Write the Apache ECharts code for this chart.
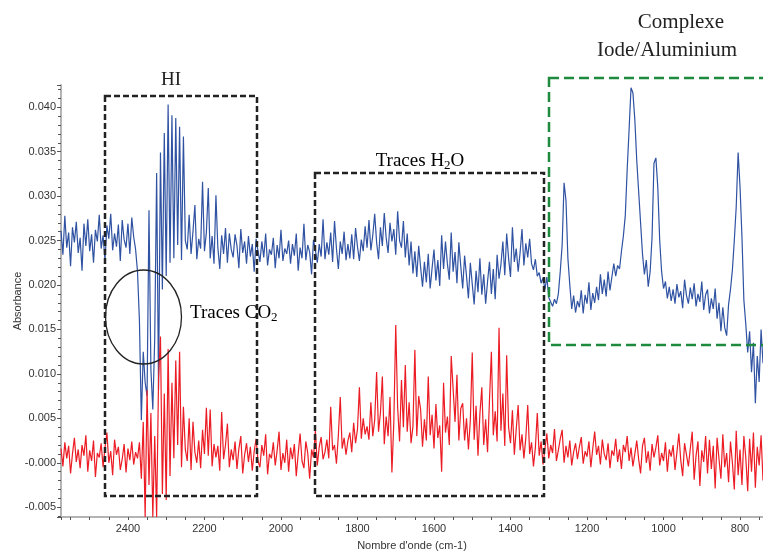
<!DOCTYPE html>
<html>
<head>
<meta charset="utf-8">
<script src="https://cdn.jsdelivr.net/npm/echarts@6/dist/echarts.min.js"></script>
<style>
  html, body { margin: 0; padding: 0; background: #fff; }
  #chart { width: 763px; height: 551px; }
</style>
</head>
<body>
<div id="chart"></div>
<script>
  // absorbance en milli-unites, un point tous les 5 cm-1 de 2575 a 740 cm-1
  const waveStart = 2575;
  const waveStep = 5;

  const blueAbs = [
    26.1, 23.4, 27.8, 24.2, 25.9, 22.1, 26.5, 24.8, 27.1, 23.6,
    25.3, 21.6, 26.9, 24.4, 27.4, 23.8, 25.7, 22.5, 26.2, 24.9,
    27.9, 24.1, 25.6, 22.8, 26.7, 25.2, 28.0, 23.9, 25.8, 24.3,
    26.8, 22.7, 27.3, 25.1, 24.2, 26.9, 23.5, 27.6, 25.4, 24.0,
    21.5, 16.0, 4.8, 12.5, 9.0, 7.5, 28.4, 10.5, 6.0, 14.0,
    32.6, 8.2, 34.9, 19.5, 37.1, 21.0, 40.3, 22.5, 39.1, 23.0,
    38.8, 24.5, 37.8, 22.8, 36.7, 25.0, 24.0, 27.9, 23.5, 26.0,
    29.0, 22.9, 25.2, 24.1, 31.6, 23.8, 25.9, 30.9, 23.0, 25.5,
    22.4, 30.1, 24.2, 21.8, 25.6, 23.5, 26.4, 22.5, 25.8, 24.0,
    23.1, 25.7, 24.4, 21.9, 26.3, 23.6, 24.9, 22.4, 25.5, 23.2,
    24.6, 21.5, 25.2, 23.8, 22.6, 24.9, 23.1, 25.8, 22.2, 24.0,
    23.4, 25.3, 21.9, 24.5, 23.0, 26.2, 22.7, 24.1, 23.5, 25.0,
    22.4, 24.6, 23.3, 25.8, 21.6, 24.2, 23.0, 26.9, 22.8, 24.5,
    23.7, 21.2, 25.1, 23.9, 22.5, 24.6, 23.2, 27.4, 22.9, 24.8,
    23.4, 25.9, 22.6, 27.2, 24.1, 21.8, 24.9, 23.5, 26.0, 22.8,
    24.6, 23.0, 25.7, 22.9, 26.4, 24.3, 22.7, 25.1, 23.8, 26.6,
    24.2, 27.3, 23.9, 25.6, 28.0, 24.8, 22.9, 26.5, 24.4, 28.1,
    25.3, 23.6, 27.0, 24.9, 26.3, 23.4, 28.3, 25.0, 24.2, 27.2,
    23.1, 25.8, 22.2, 24.9, 21.3, 23.8, 20.9, 24.4, 22.0, 19.8,
    22.6, 20.3, 23.5, 19.6, 21.9, 24.0, 20.5, 22.8, 19.9, 25.6,
    21.8, 24.9, 22.4, 20.6, 25.9, 21.5, 23.7, 20.2, 24.8, 22.1,
    19.6, 23.3, 21.0, 18.5, 22.5, 20.1, 17.8, 21.6, 19.2, 23.0,
    18.9, 21.2, 17.9, 20.4, 22.6, 19.0, 21.8, 18.4, 23.4, 20.7,
    22.3, 24.9, 21.1, 25.8, 23.0, 20.9, 26.5, 22.6, 24.1, 21.5,
    23.6, 26.3, 22.2, 24.7, 23.1, 25.2, 22.4, 21.7, 22.9, 21.0,
    21.4, 20.2, 20.8, 19.5, 20.9, 18.6, 18.1, 17.6, 18.4, 17.9,
    19.0, 21.5, 24.5, 31.5, 29.5, 23.0, 20.0, 17.3, 18.8, 16.9,
    18.2, 17.5, 19.4, 16.8, 18.9, 17.9, 20.3, 17.2, 19.1, 18.0,
    19.8, 18.3, 21.2, 19.0, 20.6, 18.7, 21.5, 19.4, 20.9, 22.4,
    21.0, 22.2, 21.8, 23.8, 25.5, 27.8, 33.0, 37.5, 42.2, 41.6,
    38.6, 34.0, 30.5, 27.0, 23.5, 21.2, 22.8, 19.8, 21.5, 25.4,
    33.7, 34.3, 31.0, 25.0, 21.5, 19.6, 20.4, 18.5, 19.8, 18.2,
    19.5, 17.9, 20.1, 18.6, 19.3, 17.4, 20.6, 18.8, 17.9, 19.7,
    18.4, 20.2, 17.6, 19.0, 18.1, 20.4, 17.2, 18.9, 19.5, 16.8,
    18.5, 17.3, 19.6, 16.2, 18.0, 14.8, 17.5, 15.2, 14.3, 17.8,
    19.5, 21.7, 25.0, 28.8, 34.9, 31.0, 25.4, 18.3, 15.6, 12.4,
    14.8, 10.2, 13.5, 6.7, 12.0, 9.1, 15.0, 11.2
  ];

  const redAbs = [
    1.6, -0.4, 2.3, 0.5, 1.9, -1.2, 1.0, 2.8, 0.1, 1.5,
    -0.6, 2.0, 0.8, 3.1, -1.0, 1.4, 0.2, 2.5, -1.6, 1.1,
    0.6, 2.2, -0.5, 1.7, 3.4, 0.0, 1.3, -1.4, 2.6, 0.9,
    1.8, -0.8, 0.4, 2.1, -1.1, 1.6, 0.3, 2.4, -0.2, 1.2,
    0.5, 2.3, -1.8, 4.6, -6.1, 8.2, -2.5, 5.6, -6.1, 3.0,
    -6.1, 9.5, 14.2, -3.5, 7.8, -4.2, 12.8, -1.5, 9.0, 0.5,
    11.5, 2.0, 12.5, -0.5, 6.3, 1.5, 0.2, 5.0, -0.8, 4.6,
    1.2, 0.0, 2.5, -0.6, 3.7, 1.0, 6.2, 0.8, 6.0, -0.4,
    2.1, 0.6, 1.9, -0.9, 5.7, 0.4, 2.0, 4.4, -0.5, 1.5,
    0.3, 2.4, -0.7, 1.6, 3.0, -1.2, 0.9, 2.2, 0.1, 1.8,
    -0.9, 1.3, 2.7, 0.2, -0.5, 2.0, 0.8, 3.2, -1.3, 1.0,
    0.5, 2.3, -0.3, 1.4, 3.5, -0.8, 1.1, 0.0, 2.6, -1.0,
    1.7, 0.4, 2.1, -1.5, 1.0, 3.3, 0.2, -0.6, 2.4, 1.1,
    -1.8, 1.5, 0.6, 3.6, -0.3, 1.8, 2.9, 0.4, 1.2, 2.6,
    0.5, 6.3, 1.4, 2.0, -0.1, 3.1, 7.4, 1.6, 2.8, 0.9,
    2.5, 3.4, 1.2, 4.5, 2.2, 3.8, 8.5, 2.7, 5.0, 3.2,
    4.1, 2.6, 6.8, 3.0, 4.8, 10.2, 3.5, 5.6, 9.7, 2.1,
    5.2, 3.0, 7.4, -1.1, 4.6, 15.5, 6.2, 2.4, 9.3, 4.0,
    11.0, 3.5, 6.8, 2.2, 4.1, 12.7, 3.0, 7.5, 6.0, 1.8,
    4.9, 2.5, 9.7, 3.1, 5.4, 1.6, 6.6, 2.8, 4.2, -1.0,
    9.0, 3.4, 5.2, 2.0, 12.0, 12.0, 4.6, 9.9, 2.5, 6.1,
    6.7, 2.5, 5.0, 1.5, 4.8, 12.4, 2.6, 6.4, 0.8, 5.5,
    8.5, 2.0, 4.9, 1.2, 7.0, 12.5, 3.1, 5.8, 2.4, 15.2,
    3.6, 7.8, 1.9, 12.1, 4.0, 2.2, 5.9, 0.9, 3.8, 6.5,
    1.4, 3.2, 0.5, 2.8, 6.5, 1.0, 2.3, -0.4, 1.7, 5.6,
    0.8, 2.4, -0.2, 1.6, 3.3, 0.5, 2.0, 1.1, 3.8, 0.2,
    1.4, 2.7, 3.7, 0.0, 1.9, 0.6, 2.5, -0.3, 1.2, 2.2,
    0.4, 1.8, 2.9, -0.1, 1.3, 0.7, 2.4, -0.5, 1.6, 3.5,
    0.9, 1.9, -0.2, 2.6, 1.0, 0.3, 2.2, -0.6, 1.4, 0.8,
    2.7, 0.1, 1.5, -0.7, 2.0, 1.2, 3.0, 0.2, 1.7, -0.4,
    1.0, 2.5, 0.4, -1.2, 1.9, 2.8, 0.0, 1.3, -0.9, 2.1,
    0.6, 1.7, 3.1, -0.3, 1.1, 0.2, 2.3, -1.0, 1.5, 0.7,
    2.0, -0.8, 1.2, 3.3, 0.3, -1.5, 2.2, 0.9, -0.4, 1.6,
    3.5, -1.9, 0.8, 2.4, -2.6, 1.4, 0.1, 3.0, -1.2, 2.6,
    -0.7, 1.9, -2.9, 2.8, 0.4, -1.8, 3.2, -0.5, 1.1, -2.2,
    2.4, 0.0, -3.0, 3.6, -1.4, 1.5, -2.5, 3.0, 0.6, -3.2,
    2.7, -1.0, 3.4, -2.8, 1.8, -0.3, 3.1, -2.0
  ];

  const wavenumbers = blueAbs.map((_, i) => waveStart - i * waveStep);
  const bluePoints = wavenumbers.map((w, i) => [w, blueAbs[i]]);
  const redPoints = wavenumbers.map((w, i) => [w, redAbs[i]]);

  const serif = '"Liberation Serif", "Times New Roman", serif';
  const sans = '"Liberation Sans", Arial, sans-serif';

  const chart = echarts.init(document.getElementById('chart'));

  const option = {
    animation: false,
    grid: { left: 61, right: 0, top: 85, bottom: 34, outerBoundsMode: 'none' },
    xAxis: {
      type: 'value',
      inverse: true,
      min: 740,
      max: 2575,
      splitNumber: 9,
      name: "Nombre d'onde (cm-1)",
      nameLocation: 'middle',
      nameGap: 23,
      nameMoveOverlap: false,
      nameTextStyle: { fontFamily: sans, fontSize: 11, color: '#333' },
      axisLine: { onZero: false, lineStyle: { color: '#b4b4b4', width: 2 } },
      axisTick: { length: 3, lineStyle: { color: '#555' } },
      minorTick: { show: true, splitNumber: 4, length: 3, lineStyle: { color: '#555' } },
      splitLine: { show: false },
      axisLabel: {
        fontFamily: sans, fontSize: 11, color: '#333', margin: 6,
        showMinLabel: false, showMaxLabel: false,
        formatter: (v) => String(v)
      }
    },
    yAxis: {
      type: 'value',
      min: -6.1,
      max: 42.5,
      splitNumber: 10,
      name: 'Absorbance',
      nameLocation: 'middle',
      nameGap: 38,
      nameMoveOverlap: false,
      nameTextStyle: { fontFamily: sans, fontSize: 11, color: '#333' },
      axisLine: { show: true, onZero: false, lineStyle: { color: '#b4b4b4', width: 2 } },
      axisTick: { show: true, length: 4, lineStyle: { color: '#555' } },
      minorTick: { show: true, splitNumber: 5, length: 3, lineStyle: { color: '#555' } },
      splitLine: { show: false },
      axisLabel: {
        fontFamily: sans, fontSize: 11, color: '#333', margin: 5,
        showMinLabel: false, showMaxLabel: false,
        formatter: (v) => (v === 0 ? '-0.000' : (v / 1000).toFixed(3))
      }
    },
    series: [
      {
        type: 'line',
        data: bluePoints,
        showSymbol: false,
        lineStyle: { color: '#2f52a2', width: 1.2 },
        z: 2
      },
      {
        type: 'line',
        data: redPoints,
        showSymbol: false,
        lineStyle: { color: '#ec1c24', width: 1.2 },
        z: 3
      }
    ],
    graphic: [
      {
        type: 'rect', z: 10,
        shape: { x: 105, y: 96, width: 152, height: 400 },
        style: { fill: 'none', stroke: '#222', lineWidth: 2.5, lineDash: [6, 3] }
      },
      {
        type: 'rect', z: 10,
        shape: { x: 315, y: 173, width: 229, height: 323 },
        style: { fill: 'none', stroke: '#222', lineWidth: 2.5, lineDash: [6, 3] }
      },
      {
        type: 'rect', z: 10,
        shape: { x: 549, y: 78, width: 240, height: 267 },
        style: { fill: 'none', stroke: '#1d8a3d', lineWidth: 2.5, lineDash: [10, 5] }
      },
      {
        type: 'ellipse', z: 10,
        shape: { cx: 143.5, cy: 317, rx: 38, ry: 47 },
        style: { fill: 'none', stroke: '#222', lineWidth: 1.3 }
      },
      {
        type: 'text', z: 10, x: 171, y: 80,
        style: { text: 'HI', font: '19px ' + serif, fill: '#222', align: 'center', verticalAlign: 'middle' }
      },
      {
        type: 'text', z: 10, x: 420, y: 161,
        style: {
          text: '{n|Traces H}{s|2}{n|O}',
          align: 'center', verticalAlign: 'middle',
          rich: {
            n: { fontFamily: serif, fontSize: 19, color: '#222' },
            s: { fontFamily: serif, fontSize: 13, color: '#222', padding: [9, 0, 0, 0] }
          }
        }
      },
      {
        type: 'text', z: 10, x: 190, y: 313,
        style: {
          text: '{n|Traces CO}{s|2}',
          align: 'left', verticalAlign: 'middle',
          rich: {
            n: { fontFamily: serif, fontSize: 19, color: '#222' },
            s: { fontFamily: serif, fontSize: 13, color: '#222', padding: [9, 0, 0, 0] }
          }
        }
      },
      {
        type: 'text', z: 10, x: 681, y: 22,
        style: { text: 'Complexe', font: '21px ' + serif, fill: '#222', align: 'center', verticalAlign: 'middle' }
      },
      {
        type: 'text', z: 10, x: 667, y: 50,
        style: { text: 'Iode/Aluminium', font: '21px ' + serif, fill: '#222', align: 'center', verticalAlign: 'middle' }
      }
    ]
  };

  chart.setOption(option);
</script>
</body>
</html>
